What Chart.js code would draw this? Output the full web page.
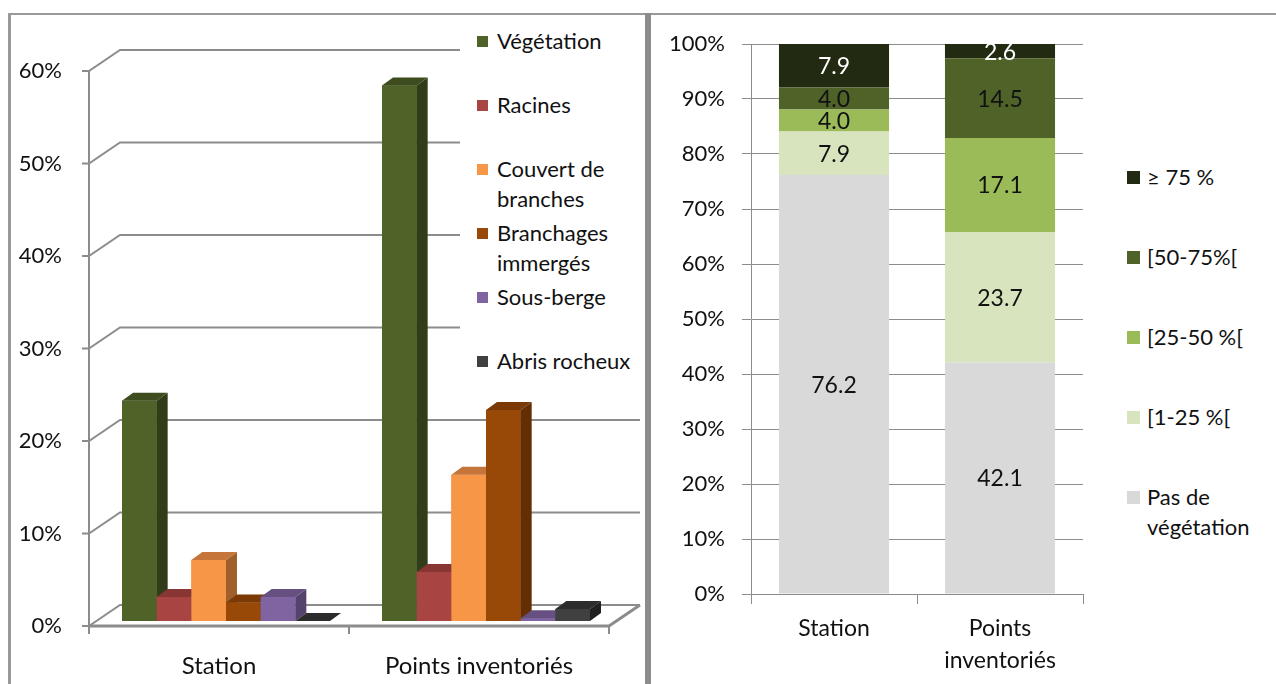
<!DOCTYPE html>
<html>
<head>
<meta charset="utf-8">
<script src="https://cdn.jsdelivr.net/npm/chart.js@4.4.1/dist/chart.umd.min.js"></script>
<style>
  body { margin: 0; width: 1276px; height: 684px; position: relative; background: #fff; overflow: hidden; font-family: Lato, sans-serif; }
  canvas { position: absolute; top: 0; }
  #leftChart { left: 0; }
  #rightChart { left: 651px; }
  .line { position: absolute; background: #999; }
  .legend { position: absolute; background: #fff; font-size: 22px; color: #111; }
  .item { position: absolute; line-height: 30px; }
  .item span.box { position: absolute; }
</style>
</head>
<body>
<canvas id="leftChart" width="645" height="684"></canvas>
<canvas id="rightChart" width="625" height="684"></canvas>
<div class="line" style="left:8px;top:13px;width:1268px;height:2px"></div>
<div class="line" style="left:8px;top:13px;width:3px;height:671px"></div>
<div class="line" style="left:645px;top:13px;width:6px;height:671px;background:#8c8c8c"></div>
<div class="legend" id="leftLegend" style="left:460px;top:15px;width:185px;height:370px"></div>
<div class="legend" id="rightLegend" style="left:1110px;top:140px;width:166px;height:420px"></div>
<script>
// données
const categories = ['Station', 'Points inventoriés'];

// graphique de gauche : types d'abris (%)
const habitatNames = ['Végétation', 'Racines', 'Couvert de branches', 'Branchages immergés', 'Sous-berge', 'Abris rocheux'];
const vegetation = [23.8, 57.9];
const racines = [2.6, 5.3];
const couvertBranches = [6.6, 15.8];
const branchagesImmerges = [2.0, 22.8];
const sousBerge = [2.6, 0.3];
const abrisRocheux = [0, 1.3];
const habitatTicks = [0, 10, 20, 30, 40, 50, 60];

// graphique de droite : recouvrement végétal (%)
const coverNames = ['Pas de végétation', '[1-25 %[', '[25-50 %[', '[50-75%[', '≥ 75 %'];
const pasDeVegetation = [76.2, 42.1];
const cover1to25 = [7.9, 23.7];
const cover25to50 = [4.0, 17.1];
const cover50to75 = [4.0, 14.5];
const cover75plus = [7.9, 2.6];

// couleurs
const habitatColors = [
  { front: '#4f6228', top: '#3e4d1f', side: '#313d18' },
  { front: '#a84543', top: '#873634', side: '#742e2d' },
  { front: '#f79646', top: '#c5753a', side: '#a0602c' },
  { front: '#984807', top: '#7a3905', side: '#632e04' },
  { front: '#8064a2', top: '#665082', side: '#55436d' },
  { front: '#404040', top: '#2c2c2c', side: '#202020' }
];
const coverColors = ['#d9d9d9', '#d7e4bd', '#9bbb59', '#4f6228', '#222a12'];
const coverLabelColors = ['#111', '#111', '#111', '#111', '#fff'];

Chart.defaults.font.family = 'Lato, sans-serif';
Chart.defaults.font.size = 22;
Chart.defaults.color = '#111';

// mur et sol du graphique 3D
const wall3d = {
  id: 'wall3d',
  beforeDatasetsDraw(chart) {
    const { ctx, chartArea: a, scales: { x: xs, y: ys } } = chart;
    const fx = -7, fy = 5;     // plan avant
    const bx = 24, by = -16;   // mur du fond
    ctx.save();
    ctx.strokeStyle = '#8c8c8c';
    ctx.lineWidth = 2;
    ys.ticks.forEach(t => {
      const yb = ys.getPixelForValue(t.value);
      ctx.beginPath();
      ctx.moveTo(a.left + fx - 7, yb + fy);
      ctx.lineTo(a.left + fx, yb + fy);
      ctx.lineTo(a.left + bx, yb + by);
      ctx.lineTo(a.right + bx, yb + by);
      ctx.stroke();
    });
    // axe vertical avant
    const y0 = ys.getPixelForValue(0);
    ctx.beginPath();
    ctx.moveTo(a.left + fx, ys.getPixelForValue(ys.max) + fy);
    ctx.lineTo(a.left + fx, y0 + fy + 8);
    ctx.stroke();
    // bord avant et droit du sol
    ctx.lineWidth = 3;
    ctx.beginPath();
    ctx.moveTo(a.left + fx, y0 + fy);
    ctx.lineTo(a.right + fx, y0 + fy);
    ctx.lineTo(a.right + bx, y0 + by);
    ctx.stroke();
    ctx.lineWidth = 2;
    // repères de catégories
    const n = categories.length;
    for (let i = 0; i <= n; i++) {
      const x = a.left + (a.right - a.left) * i / n + fx;
      ctx.beginPath();
      ctx.moveTo(x, y0 + fy);
      ctx.lineTo(x, y0 + fy + 8);
      ctx.stroke();
    }
    ctx.restore();
  }
};

// faces supérieures et latérales des barres
const bars3d = {
  id: 'bars3d',
  afterDatasetsDraw(chart) {
    const ctx = chart.ctx;
    const dx = 11, dy = 8;
    const poly = pts => {
      ctx.beginPath();
      ctx.moveTo(pts[0][0], pts[0][1]);
      pts.slice(1).forEach(p => ctx.lineTo(p[0], p[1]));
      ctx.closePath();
      ctx.fill();
    };
    ctx.save();
    chart.data.datasets.forEach((ds, i) => {
      const c = habitatColors[i];
      chart.getDatasetMeta(i).data.forEach(bar => {
        const { x, y, base, width } = bar.getProps(['x', 'y', 'base', 'width'], true);
        const l = x - width / 2, r = x + width / 2;
        ctx.fillStyle = c.front;
        ctx.fillRect(l, y, width, base - y);
        ctx.fillStyle = c.side;
        poly([[r, y], [r + dx, y - dy], [r + dx, base - dy], [r, base]]);
        ctx.fillStyle = c.top;
        poly([[l, y], [r, y], [r + dx, y - dy], [l + dx, y - dy]]);
      });
    });
    ctx.restore();
  }
};

new Chart(document.getElementById('leftChart'), {
  type: 'bar',
  data: {
    labels: categories,
    datasets: [vegetation, racines, couvertBranches, branchagesImmerges, sousBerge, abrisRocheux].map((d, i) => ({
      label: habitatNames[i],
      data: d,
      backgroundColor: habitatColors[i].front,
      categoryPercentage: 0.8,
      barPercentage: 1.0
    }))
  },
  options: {
    responsive: false,
    animation: false,
    layout: { padding: { left: 0, top: 66, right: 29, bottom: 0 } },
    plugins: { legend: { display: false }, tooltip: { enabled: false } },
    scales: {
      x: {
        grid: { display: false },
        border: { display: false },
        ticks: { padding: 23, labelOffset: -7, font: { size: 24 } },
        afterFit: s => { s.height = 63; }
      },
      y: {
        min: 0,
        max: 60,
        afterBuildTicks: s => { s.ticks = habitatTicks.map(v => ({ value: v })); },
        ticks: { padding: 34, labelOffset: 5, callback: v => v + '%' },
        grid: { display: false, drawTicks: false },
        border: { display: false },
        afterFit: s => { s.width = 96; }
      }
    }
  },
  plugins: [wall3d, bars3d]
});

// étiquettes de valeurs dans les segments
const segmentLabels = {
  id: 'segmentLabels',
  afterDatasetsDraw(chart) {
    const ctx = chart.ctx;
    ctx.save();
    ctx.font = '23px Lato, sans-serif';
    ctx.textAlign = 'center';
    ctx.textBaseline = 'middle';
    chart.data.datasets.forEach((ds, i) => {
      chart.getDatasetMeta(i).data.forEach((bar, j) => {
        ctx.fillStyle = coverLabelColors[i];
        ctx.fillText(ds.data[j].toFixed(1), bar.x, (bar.y + bar.base) / 2 + 1);
      });
    });
    ctx.restore();
  }
};

new Chart(document.getElementById('rightChart'), {
  type: 'bar',
  data: {
    labels: categories.map(c => c.split(' ')),
    datasets: [pasDeVegetation, cover1to25, cover25to50, cover50to75, cover75plus].map((d, i) => ({
      label: coverNames[i],
      data: d,
      backgroundColor: coverColors[i],
      categoryPercentage: 1.0,
      barPercentage: 0.663
    }))
  },
  options: {
    responsive: false,
    animation: false,
    layout: { padding: { left: 0, top: 44, right: 193, bottom: 0 } },
    plugins: { legend: { display: false }, tooltip: { enabled: false } },
    scales: {
      x: {
        stacked: true,
        grid: { display: true, drawOnChartArea: false, offset: true, tickLength: 10, color: '#8c8c8c' },
        border: { display: true, color: '#8c8c8c' },
        ticks: { padding: 8, font: { size: 23, lineHeight: 1.4 } },
        afterFit: s => { s.height = 90; }
      },
      y: {
        stacked: true,
        min: 0,
        max: 100,
        ticks: { stepSize: 10, padding: 17, callback: v => v + '%' },
        grid: { color: '#8c8c8c', tickLength: 9 },
        border: { display: true, color: '#8c8c8c' },
        afterFit: s => { s.width = 100; }
      }
    }
  },
  plugins: [segmentLabels]
});

// légendes
function buildLegend(el, names, colors, opts) {
  names.forEach((name, k) => {
    const item = document.createElement('div');
    item.className = 'item';
    item.style.left = opts.textX + 'px';
    item.style.top = (opts.firstY + k * opts.step - 15) + 'px';
    item.style.width = opts.textW + 'px';
    item.textContent = name;
    const box = document.createElement('span');
    box.className = 'box';
    box.style.left = (opts.boxX - opts.textX) + 'px';
    box.style.top = (15 - opts.box / 2) + 'px';
    box.style.width = opts.box + 'px';
    box.style.height = opts.box + 'px';
    box.style.background = colors[k];
    item.appendChild(box);
    el.appendChild(item);
  });
}
buildLegend(document.getElementById('leftLegend'), habitatNames, habitatColors.map(c => c.front),
  { textX: 37, boxX: 17, box: 11, firstY: 26, step: 64, textW: 142 });
buildLegend(document.getElementById('rightLegend'), coverNames.slice().reverse(), coverColors.slice().reverse(),
  { textX: 37, boxX: 17, box: 13, firstY: 37, step: 80, textW: 125 });
</script>
</body>
</html>
